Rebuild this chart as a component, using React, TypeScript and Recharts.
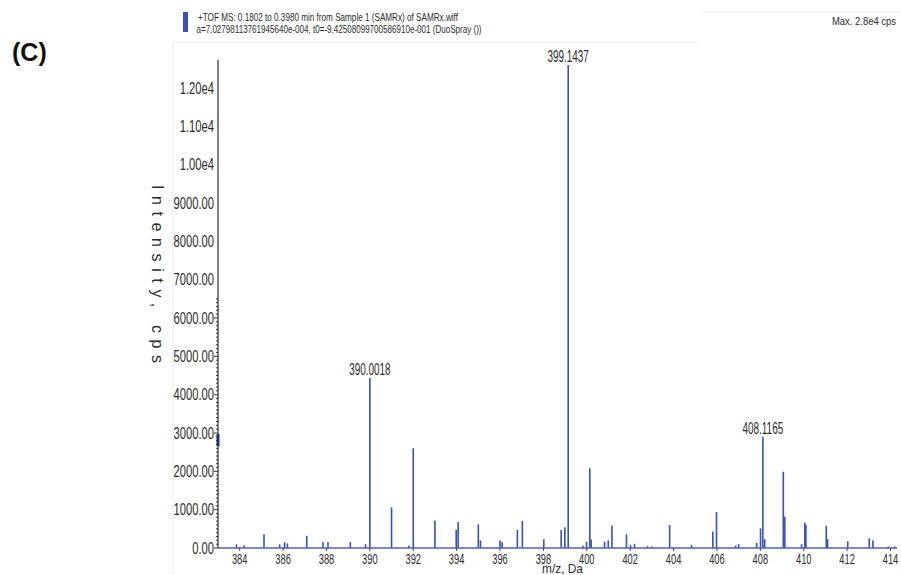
import React from 'react';
import { BarChart, Bar, XAxis, YAxis, LabelList, ReferenceDot } from 'recharts';

// m/z positions of the spectrum peaks (Da)
const MZ = [
  383.85, 384.2, 385.12, 385.84, 386.07, 386.2, 387.09, 387.84, 388.07, 389.1,
  389.8, 390.0018, 391.0, 391.8, 392.0, 393.0, 393.98, 394.07, 395.0, 395.1,
  396.0, 396.1, 396.8, 397.03, 398.02, 398.82, 398.99, 399.1437, 399.82, 399.99,
  400.14, 400.2, 400.82, 400.99, 401.16, 401.83, 402.02, 402.2, 402.8, 403.0,
  403.82, 404.83, 405.81, 405.98, 406.86, 407.0, 407.83, 408.01, 408.1165, 408.2,
  409.06, 409.13, 409.9, 410.05, 410.1, 411.04, 411.1, 412.03, 413.02, 413.19,
  413.9, 414.2,
];

// intensities (cps)
const INTENSITY = [
  95, 70, 357, 95, 148, 120, 320, 156, 156, 156,
  100, 4433, 1060, 60, 2600, 713, 470, 678, 617, 200,
  200, 150, 470, 704, 227, 470, 540, 12600, 60, 160,
  2078, 220, 165, 200, 582, 357, 70, 110, 50, 40,
  600, 80, 426, 939, 60, 100, 130, 513, 2900, 230,
  1990, 817, 100, 660, 600, 582, 230, 175, 253, 200,
  40, 40,
];

const ANNOTATED = [390.0018, 399.1437, 408.1165];

const X_TICKS = [384, 386, 388, 390, 392, 394, 396, 398, 400, 402, 404, 406, 408, 410, 412, 414];
const Y_MAJOR = [0, 1000, 2000, 3000, 4000, 5000, 6000, 7000, 8000, 9000, 10000, 11000, 12000];
const Y_MINOR_MAX = 6500;

const yMinor: number[] = [];
for (let v = 0; v <= Y_MINOR_MAX; v += 100) yMinor.push(v);
const Y_TICKS = Array.from(new Set([...yMinor, ...Y_MAJOR])).sort((a, b) => a - b);

const data = MZ.map((mz, i) => ({
  mz,
  intensity: INTENSITY[i],
  label: ANNOTATED.includes(mz) ? mz.toFixed(4) : '',
}));

const FONT = '"Liberation Sans", Arial, sans-serif';
const TEXT = '#2b2b2b';
const BLUE = '#3a51b6';

const fmtY = (v: number) => (v >= 10000 ? (v / 10000).toFixed(2) + 'e4' : v.toFixed(2));

const YTick = (p: any) => {
  const v = Number(p.payload.value);
  const ax = p.x + 4;
  const isMajor = v % 1000 === 0;
  const showLine = v <= Y_MINOR_MAX;
  return (
    <g>
      {showLine && (
        <line x1={ax - (isMajor ? 4 : 2)} x2={ax} y1={p.y} y2={p.y} stroke="#333" strokeWidth={1} />
      )}
      {isMajor && (
        <text
          transform={`translate(${p.x},${p.y + 5.7}) scale(0.7,1)`}
          textAnchor="end"
          fontSize={16}
          fontFamily={FONT}
          fill={TEXT}
        >
          {fmtY(v)}
        </text>
      )}
    </g>
  );
};

const XTick = (p: any) => (
  <text
    transform={`translate(${p.x},${p.y + 11}) scale(0.62,1)`}
    textAnchor="middle"
    fontSize={15}
    fontFamily={FONT}
    fill={TEXT}
  >
    {p.payload.value}
  </text>
);

const PeakLabel = (p: any) => {
  if (!p.value) return null;
  const cx = Number(p.x) + Number(p.width) / 2;
  const y = Number(p.y) - 3;
  return (
    <text
      transform={`translate(${cx},${y}) scale(0.62,1)`}
      textAnchor="middle"
      fontSize={16}
      fontFamily={FONT}
      fill={TEXT}
    >
      {p.value}
    </text>
  );
};

const Stick = (p: any) => {
  const cx = Number(p.x) + Number(p.width) / 2;
  const h = Number(p.height);
  if (!isFinite(cx) || !isFinite(h)) return null;
  return <rect x={cx - 0.8} y={Number(p.y)} width={1.6} height={Math.max(h, 0)} fill={BLUE} />;
};

export default function App() {
  return (
    <div style={{ position: 'absolute', left: 0, top: 0, width: 901, height: 575, background: '#fff' }}>
      <svg width={901} height={575} style={{ position: 'absolute', left: 0, top: 0 }}>
        <line x1={173} x2={173} y1={42} y2={575} stroke="#eeeeee" strokeWidth={1} />
        <line x1={173} x2={700} y1={42} y2={42} stroke="#eeeeee" strokeWidth={1} />
        <line x1={700} x2={901} y1={12} y2={12} stroke="#eeeeee" strokeWidth={1} />
        <text x={12} y={61} fontSize={25} fontWeight="bold" fontFamily={FONT} fill="#111">
          (C)
        </text>
        <rect x={183} y={12} width={5} height={20} fill={BLUE} />
        <text x={198} y={21} fontSize={10.5} fontFamily={FONT} fill={TEXT} textLength={260} lengthAdjust="spacingAndGlyphs">
          +TOF MS: 0.1802 to 0.3980 min from Sample 1 (SAMRx) of SAMRx.wiff
        </text>
        <text x={196.5} y={33} fontSize={10.5} fontFamily={FONT} fill={TEXT} textLength={285} lengthAdjust="spacingAndGlyphs">
          a=7.02798113761945640e-004, t0=-9.42508099700586910e-001 (DuoSpray ())
        </text>
        <text x={832} y={25} fontSize={11} fontFamily={FONT} fill={TEXT} textLength={64} lengthAdjust="spacingAndGlyphs">
          Max. 2.8e4 cps
        </text>
        <text
          transform="translate(152,274) rotate(90)"
          textAnchor="middle"
          fontSize={16}
          fontFamily={FONT}
          fill={TEXT}
          textLength={178}
          lengthAdjust="spacing"
        >
          Intensity, cps
        </text>
        <text x={542} y={573} fontSize={13} fontFamily={FONT} fill={TEXT} textLength={41} lengthAdjust="spacingAndGlyphs">
          m/z, Da
        </text>
      </svg>
      <div style={{ position: 'absolute', left: 0, top: 0 }}>
        <BarChart
          width={901}
          height={575}
          data={data}
          margin={{ top: 60, right: 4, bottom: 7, left: 158 }}
        >
          <XAxis
            type="number"
            dataKey="mz"
            domain={[383, 414.3]}
            allowDataOverflow
            ticks={X_TICKS}
            interval={0}
            height={20}
            tickSize={3}
            tickMargin={2}
            tick={<XTick />}
            axisLine={{ stroke: '#5062b4', strokeWidth: 1.5 }}
            tickLine={{ stroke: '#444' }}
          />
          <YAxis
            type="number"
            domain={[0, 12730]}
            allowDataOverflow
            ticks={Y_TICKS}
            interval={0}
            width={60}
            tickSize={0}
            tickMargin={4}
            tickLine={false}
            tick={<YTick />}
            axisLine={{ stroke: '#555', strokeWidth: 1.5 }}
          />
          <Bar dataKey="intensity" fill={BLUE} shape={<Stick />} isAnimationActive={false}>
            <LabelList dataKey="label" content={<PeakLabel />} />
          </Bar>
          <ReferenceDot
            x={383}
            y={2816}
            r={3}
            ifOverflow="visible"
            shape={(p: any) => <rect x={p.cx - 1.5} y={p.cy - 6} width={3} height={12} fill="#1f2f7a" />}
          />
        </BarChart>
      </div>
    </div>
  );
}
